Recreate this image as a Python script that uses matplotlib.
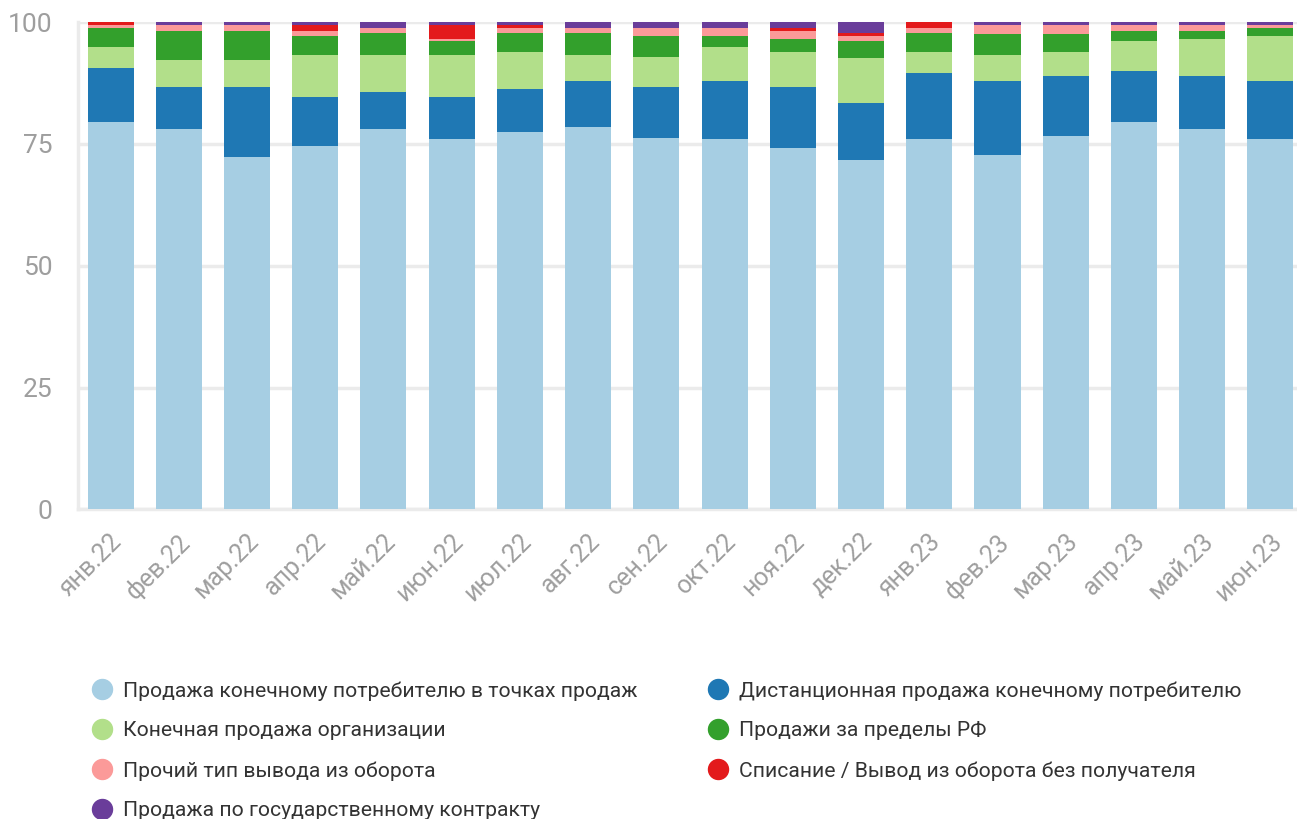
import matplotlib
matplotlib.use('Agg')
import matplotlib.pyplot as plt
import matplotlib.transforms as mtransforms
from matplotlib.lines import Line2D
import numpy as np

plt.rcParams['font.family'] = ['Roboto', 'DejaVu Sans']

# ── data (shares, %) ───────────────────────────────────────────────────────
months = ["янв.22", "фев.22", "мар.22", "апр.22", "май.22", "июн.22",
          "июл.22", "авг.22", "сен.22", "окт.22", "ноя.22", "дек.22",
          "янв.23", "фев.23", "мар.23", "апр.23", "май.23", "июн.23"]

series_names = [
    "Продажа конечному потребителю в точках продаж",
    "Дистанционная продажа конечному потребителю",
    "Конечная продажа организации",
    "Продажи за пределы РФ",
    "Прочий тип вывода из оборота",
    "Списание / Вывод из оборота без получателя",
    "Продажа по государственному контракту",
]

retail   = [79.6, 78.0, 72.4, 74.5, 78.0, 76.1, 77.4, 78.4, 76.3, 76.1, 74.1, 71.8,
            76.1, 72.8, 76.7, 79.6, 78.0, 76.1]
remote   = [10.9, 8.6, 14.2, 10.1, 7.6, 8.5, 8.8, 9.5, 10.3, 11.8, 12.5, 11.5,
            13.4, 15.1, 12.2, 10.3, 10.9, 11.8]
org      = [4.4, 5.6, 5.6, 8.6, 7.6, 8.6, 7.6, 5.3, 6.2, 7.0, 7.2, 9.3,
            4.3, 5.3, 4.9, 6.2, 7.6, 9.2]
export   = [3.9, 5.9, 5.9, 3.9, 4.5, 2.9, 3.9, 4.5, 4.3, 2.2, 2.7, 3.5,
            3.9, 4.3, 3.7, 2.0, 1.6, 1.7]
other    = [0.6, 1.3, 1.3, 1.0, 1.1, 0.4, 1.1, 1.1, 1.7, 1.7, 1.6, 1.0,
            1.1, 1.9, 1.9, 1.3, 1.3, 0.6]
writeoff = [0.6, 0.0, 0.0, 1.3, 0.0, 2.9, 0.6, 0.0, 0.0, 0.0, 0.7, 0.6,
            1.2, 0.0, 0.0, 0.0, 0.0, 0.0]
gov      = [0.0, 0.6, 0.6, 0.6, 1.2, 0.6, 0.6, 1.2, 1.2, 1.2, 1.2, 2.3,
            0.0, 0.6, 0.6, 0.6, 0.6, 0.6]

# ── style ──────────────────────────────────────────────────────────────────
COLORS = ['#a6cee3', '#1f78b4', '#b2df8a', '#33a02c', '#fb9a99', '#e31a1c', '#6a3d9a']
C_GRID = '#ebebeb'
C_TICK = '#9e9e9e'
C_TEXT = '#333333'
W, H = 1297, 819

fig = plt.figure(figsize=(W / 100, H / 100), dpi=100, facecolor='white')
ax = fig.add_axes([0.060, 0.378, 0.940, 0.595])

x = np.arange(len(months))
bottom = np.zeros(len(months))
for vals, col in zip([retail, remote, org, export, other, writeoff, gov], COLORS):
    v = np.array(vals)
    ax.bar(x, v, bottom=bottom, width=0.675, color=col, zorder=3, linewidth=0)
    bottom += v

ax.set_xlim(-0.48, 17.39)
ax.set_ylim(0, 100)
ax.set_yticks([0, 25, 50, 75, 100])
ax.yaxis.grid(True, color=C_GRID, lw=2.5, zorder=0)
ax.set_axisbelow(True)
for s in ['top', 'right']:
    ax.spines[s].set_visible(False)
for s in ['left', 'bottom']:
    ax.spines[s].set_color(C_GRID)
    ax.spines[s].set_linewidth(2.5)
ax.tick_params(axis='both', length=0, colors=C_TICK, labelsize=19)
ax.tick_params(axis='y', pad=18)

ax.set_xticks(x)
ax.set_xticklabels(months, rotation=45, ha='right', va='top',
                   rotation_mode='anchor', fontsize=18, color=C_TICK)
offset = mtransforms.ScaledTranslation(-1 / 100, -15 / 100, fig.dpi_scale_trans)
for lbl in ax.get_xticklabels():
    lbl.set_transform(lbl.get_transform() + offset)

# ── legend: two columns, filled row by row ─────────────────────────────────
col_x = [102, 718]
row_y = [689, 729, 769, 809]
for i, (name, col) in enumerate(zip(series_names, COLORS)):
    cx = col_x[i % 2]
    cy = row_y[i // 2]
    fig.add_artist(Line2D([cx / W], [1 - cy / H], marker='o', linestyle='',
                          markersize=14.4, markerfacecolor=col,
                          markeredgecolor=col, transform=fig.transFigure))
    fig.text((cx + 21) / W, 1 - cy / H, name, ha='left', va='center_baseline',
             fontsize=15.2, color=C_TEXT)

fig.savefig('out.png', dpi=100, facecolor='white')
plt.close(fig)
